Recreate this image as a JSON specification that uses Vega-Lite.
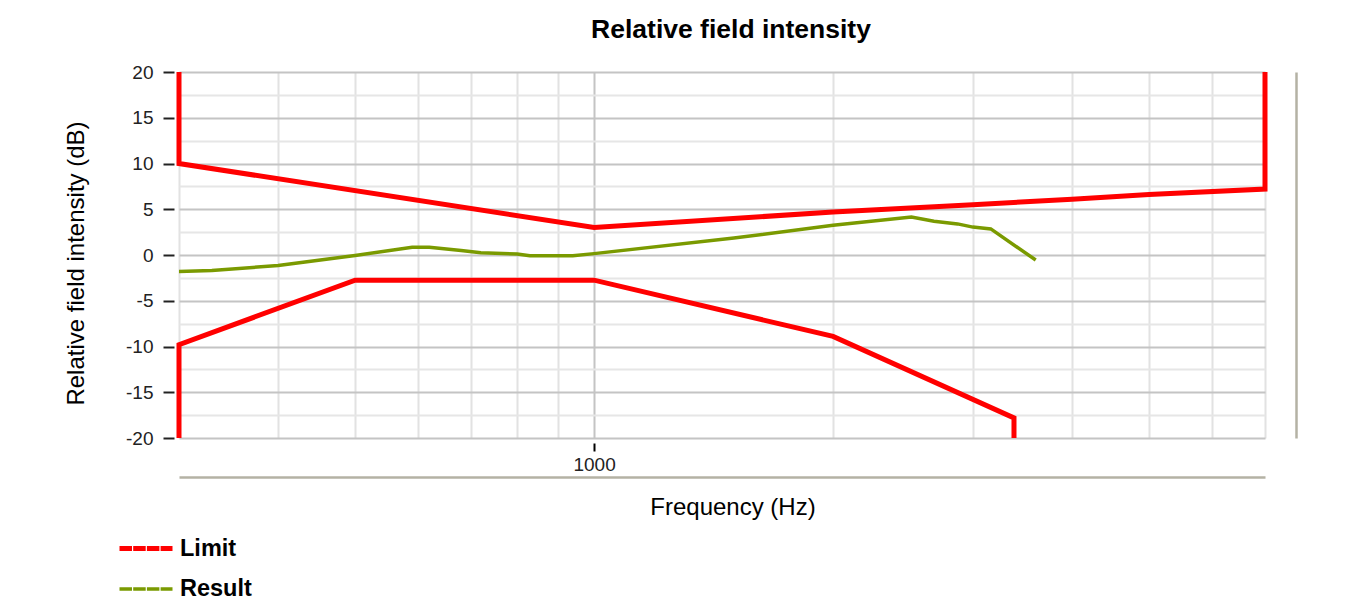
{
  "$schema": "https://vega.github.io/schema/vega-lite/v6.json",
  "width": 1086,
  "height": 366,
  "autosize": {"type": "none"},
  "padding": {"left": 179, "top": 72, "right": 98, "bottom": 165},
  "background": "white",
  "config": {"font": "Liberation Sans", "view": {"stroke": null}},
  "title": {"text": "Relative field intensity", "fontSize": 26.5, "fontWeight": "bold", "color": "#000000", "anchor": "middle", "dx": 9, "dy": 3, "offset": 22},
  "data": {"values": [
    {"series": "Limit", "part": "upper", "i": 1, "f": 300, "db": 20},
    {"series": "Limit", "part": "upper", "i": 2, "f": 300, "db": 10},
    {"series": "Limit", "part": "upper", "i": 3, "f": 1000, "db": 3},
    {"series": "Limit", "part": "upper", "i": 4, "f": 2000, "db": 4.7},
    {"series": "Limit", "part": "upper", "i": 5, "f": 3000, "db": 5.5},
    {"series": "Limit", "part": "upper", "i": 6, "f": 4000, "db": 6.1},
    {"series": "Limit", "part": "upper", "i": 7, "f": 5000, "db": 6.6},
    {"series": "Limit", "part": "upper", "i": 8, "f": 7000, "db": 7.2},
    {"series": "Limit", "part": "upper", "i": 9, "f": 7000, "db": 20},
    {"series": "Limit", "part": "lower", "i": 1, "f": 300, "db": -20},
    {"series": "Limit", "part": "lower", "i": 2, "f": 300, "db": -9.8},
    {"series": "Limit", "part": "lower", "i": 3, "f": 500, "db": -2.75},
    {"series": "Limit", "part": "lower", "i": 4, "f": 1000, "db": -2.75},
    {"series": "Limit", "part": "lower", "i": 5, "f": 2000, "db": -8.9},
    {"series": "Limit", "part": "lower", "i": 6, "f": 3380, "db": -17.8},
    {"series": "Limit", "part": "lower", "i": 7, "f": 3380, "db": -20},
    {"series": "Result", "part": "result", "i": 1, "f": 300, "db": -1.8},
    {"series": "Result", "part": "result", "i": 2, "f": 330, "db": -1.7},
    {"series": "Result", "part": "result", "i": 3, "f": 400, "db": -1.15},
    {"series": "Result", "part": "result", "i": 4, "f": 500, "db": -0.05},
    {"series": "Result", "part": "result", "i": 5, "f": 590, "db": 0.85},
    {"series": "Result", "part": "result", "i": 6, "f": 620, "db": 0.85},
    {"series": "Result", "part": "result", "i": 7, "f": 680, "db": 0.5},
    {"series": "Result", "part": "result", "i": 8, "f": 720, "db": 0.25},
    {"series": "Result", "part": "result", "i": 9, "f": 800, "db": 0.1},
    {"series": "Result", "part": "result", "i": 10, "f": 830, "db": -0.08},
    {"series": "Result", "part": "result", "i": 11, "f": 940, "db": -0.08},
    {"series": "Result", "part": "result", "i": 12, "f": 1000, "db": 0.15},
    {"series": "Result", "part": "result", "i": 13, "f": 1500, "db": 1.85},
    {"series": "Result", "part": "result", "i": 14, "f": 2000, "db": 3.25},
    {"series": "Result", "part": "result", "i": 15, "f": 2510, "db": 4.15},
    {"series": "Result", "part": "result", "i": 16, "f": 2680, "db": 3.7},
    {"series": "Result", "part": "result", "i": 17, "f": 2870, "db": 3.4},
    {"series": "Result", "part": "result", "i": 18, "f": 3000, "db": 3.05},
    {"series": "Result", "part": "result", "i": 19, "f": 3160, "db": 2.85},
    {"series": "Result", "part": "result", "i": 20, "f": 3600, "db": -0.55}
  ]},
  "layer": [
    {
      "mark": {"type": "line", "strokeCap": "butt", "strokeJoin": "miter"},
      "encoding": {
        "x": {
          "field": "f", "type": "quantitative",
          "scale": {"type": "log", "domain": [300, 7000], "nice": false},
          "axis": {
            "orient": "bottom",
            "title": "Frequency (Hz)",
            "values": [300, 400, 500, 600, 700, 800, 900, 1000, 2000, 3000, 4000, 5000, 6000, 7000],
            "labelExpr": "datum.value == 1000 ? '1000' : ''",
            "domain": false,
            "grid": true,
            "gridColor": {"condition": {"test": "datum.value == 1000", "value": "#c4c4c4"}, "value": "#e2e2e2"},
            "gridWidth": 2,
            "ticks": true,
            "tickColor": {"condition": {"test": "datum.value == 1000", "value": "#000000"}, "value": "transparent"},
            "tickSize": 8,
            "tickWidth": 2,
            "offset": 5,
            "labelFontSize": 19,
            "labelColor": "#222222",
            "labelPadding": 4,
            "labelFlush": false,
            "labelOverlap": false,
            "titleFontSize": 24,
            "titleFontWeight": "normal",
            "titleColor": "#000000",
            "titleX": 553.5,
            "titleY": 71,
            "titleBaseline": "alphabetic"
          }
        },
        "y": {
          "field": "db", "type": "quantitative",
          "scale": {"domain": [-20, 20], "nice": false, "zero": false},
          "axis": {
            "orient": "left",
            "title": "Relative field intensity (dB)",
            "values": [-20, -17.5, -15, -12.5, -10, -7.5, -5, -2.5, 0, 2.5, 5, 7.5, 10, 12.5, 15, 17.5, 20],
            "labelExpr": "datum.value % 5 == 0 ? toString(datum.value) : ''",
            "domain": false,
            "grid": true,
            "gridColor": {"condition": {"test": "datum.value % 5 == 0", "value": "#c4c4c4"}, "value": "#e6e6e6"},
            "gridWidth": 2,
            "tickColor": {"condition": {"test": "datum.value % 5 == 0", "value": "#222222"}, "value": "transparent"},
            "tickSize": 11,
            "tickWidth": 2,
            "offset": 5,
            "labelFontSize": 19,
            "labelColor": "#222222",
            "labelPadding": 10,
            "labelOverlap": false,
            "labelFlush": false,
            "titleFontSize": 24,
            "titleFontWeight": "normal",
            "titleColor": "#000000",
            "titleX": -91,
            "titleY": 191,
            "titleAlign": "center",
            "titleBaseline": "alphabetic"
          }
        },
        "color": {
          "field": "series", "type": "nominal",
          "scale": {"domain": ["Limit", "Result"], "range": ["#ff0000", "#7a9a00"]},
          "legend": {
            "orient": "none",
            "legendX": -62,
            "legendY": 447.5,
            "direction": "vertical",
            "title": null,
            "padding": 0,
            "symbolType": "stroke",
            "symbolSize": 2809,
            "symbolStrokeWidth": 3.5,
            "symbolDash": [12.5, 1.2],
            "labelFontSize": 23.5,
            "labelFontWeight": "bold",
            "labelColor": "#000000",
            "labelOffset": 5,
            "rowPadding": -13
          }
        },
        "strokeWidth": {
          "field": "series", "type": "nominal",
          "scale": {"domain": ["Limit", "Result"], "range": [5, 3.5]},
          "legend": null
        },
        "detail": {"field": "part", "type": "nominal"},
        "order": {"field": "i", "type": "quantitative"}
      }
    },
    {
      "mark": {"type": "line", "opacity": 0},
      "encoding": {
        "x": {
          "field": "f", "type": "quantitative",
          "axis": {"orient": "bottom", "offset": 39, "domain": true, "domainColor": "#b4b2a4", "domainWidth": 2.5, "ticks": false, "labels": false, "grid": false, "title": null}
        },
        "y": {
          "field": "db", "type": "quantitative",
          "axis": {"orient": "right", "offset": 31, "domain": true, "domainColor": "#b4b2a4", "domainWidth": 2.5, "ticks": false, "labels": false, "grid": false, "title": null}
        },
        "detail": {"field": "part", "type": "nominal"},
        "order": {"field": "i", "type": "quantitative"}
      }
    }
  ],
  "resolve": {"axis": {"x": "independent", "y": "independent"}}
}
